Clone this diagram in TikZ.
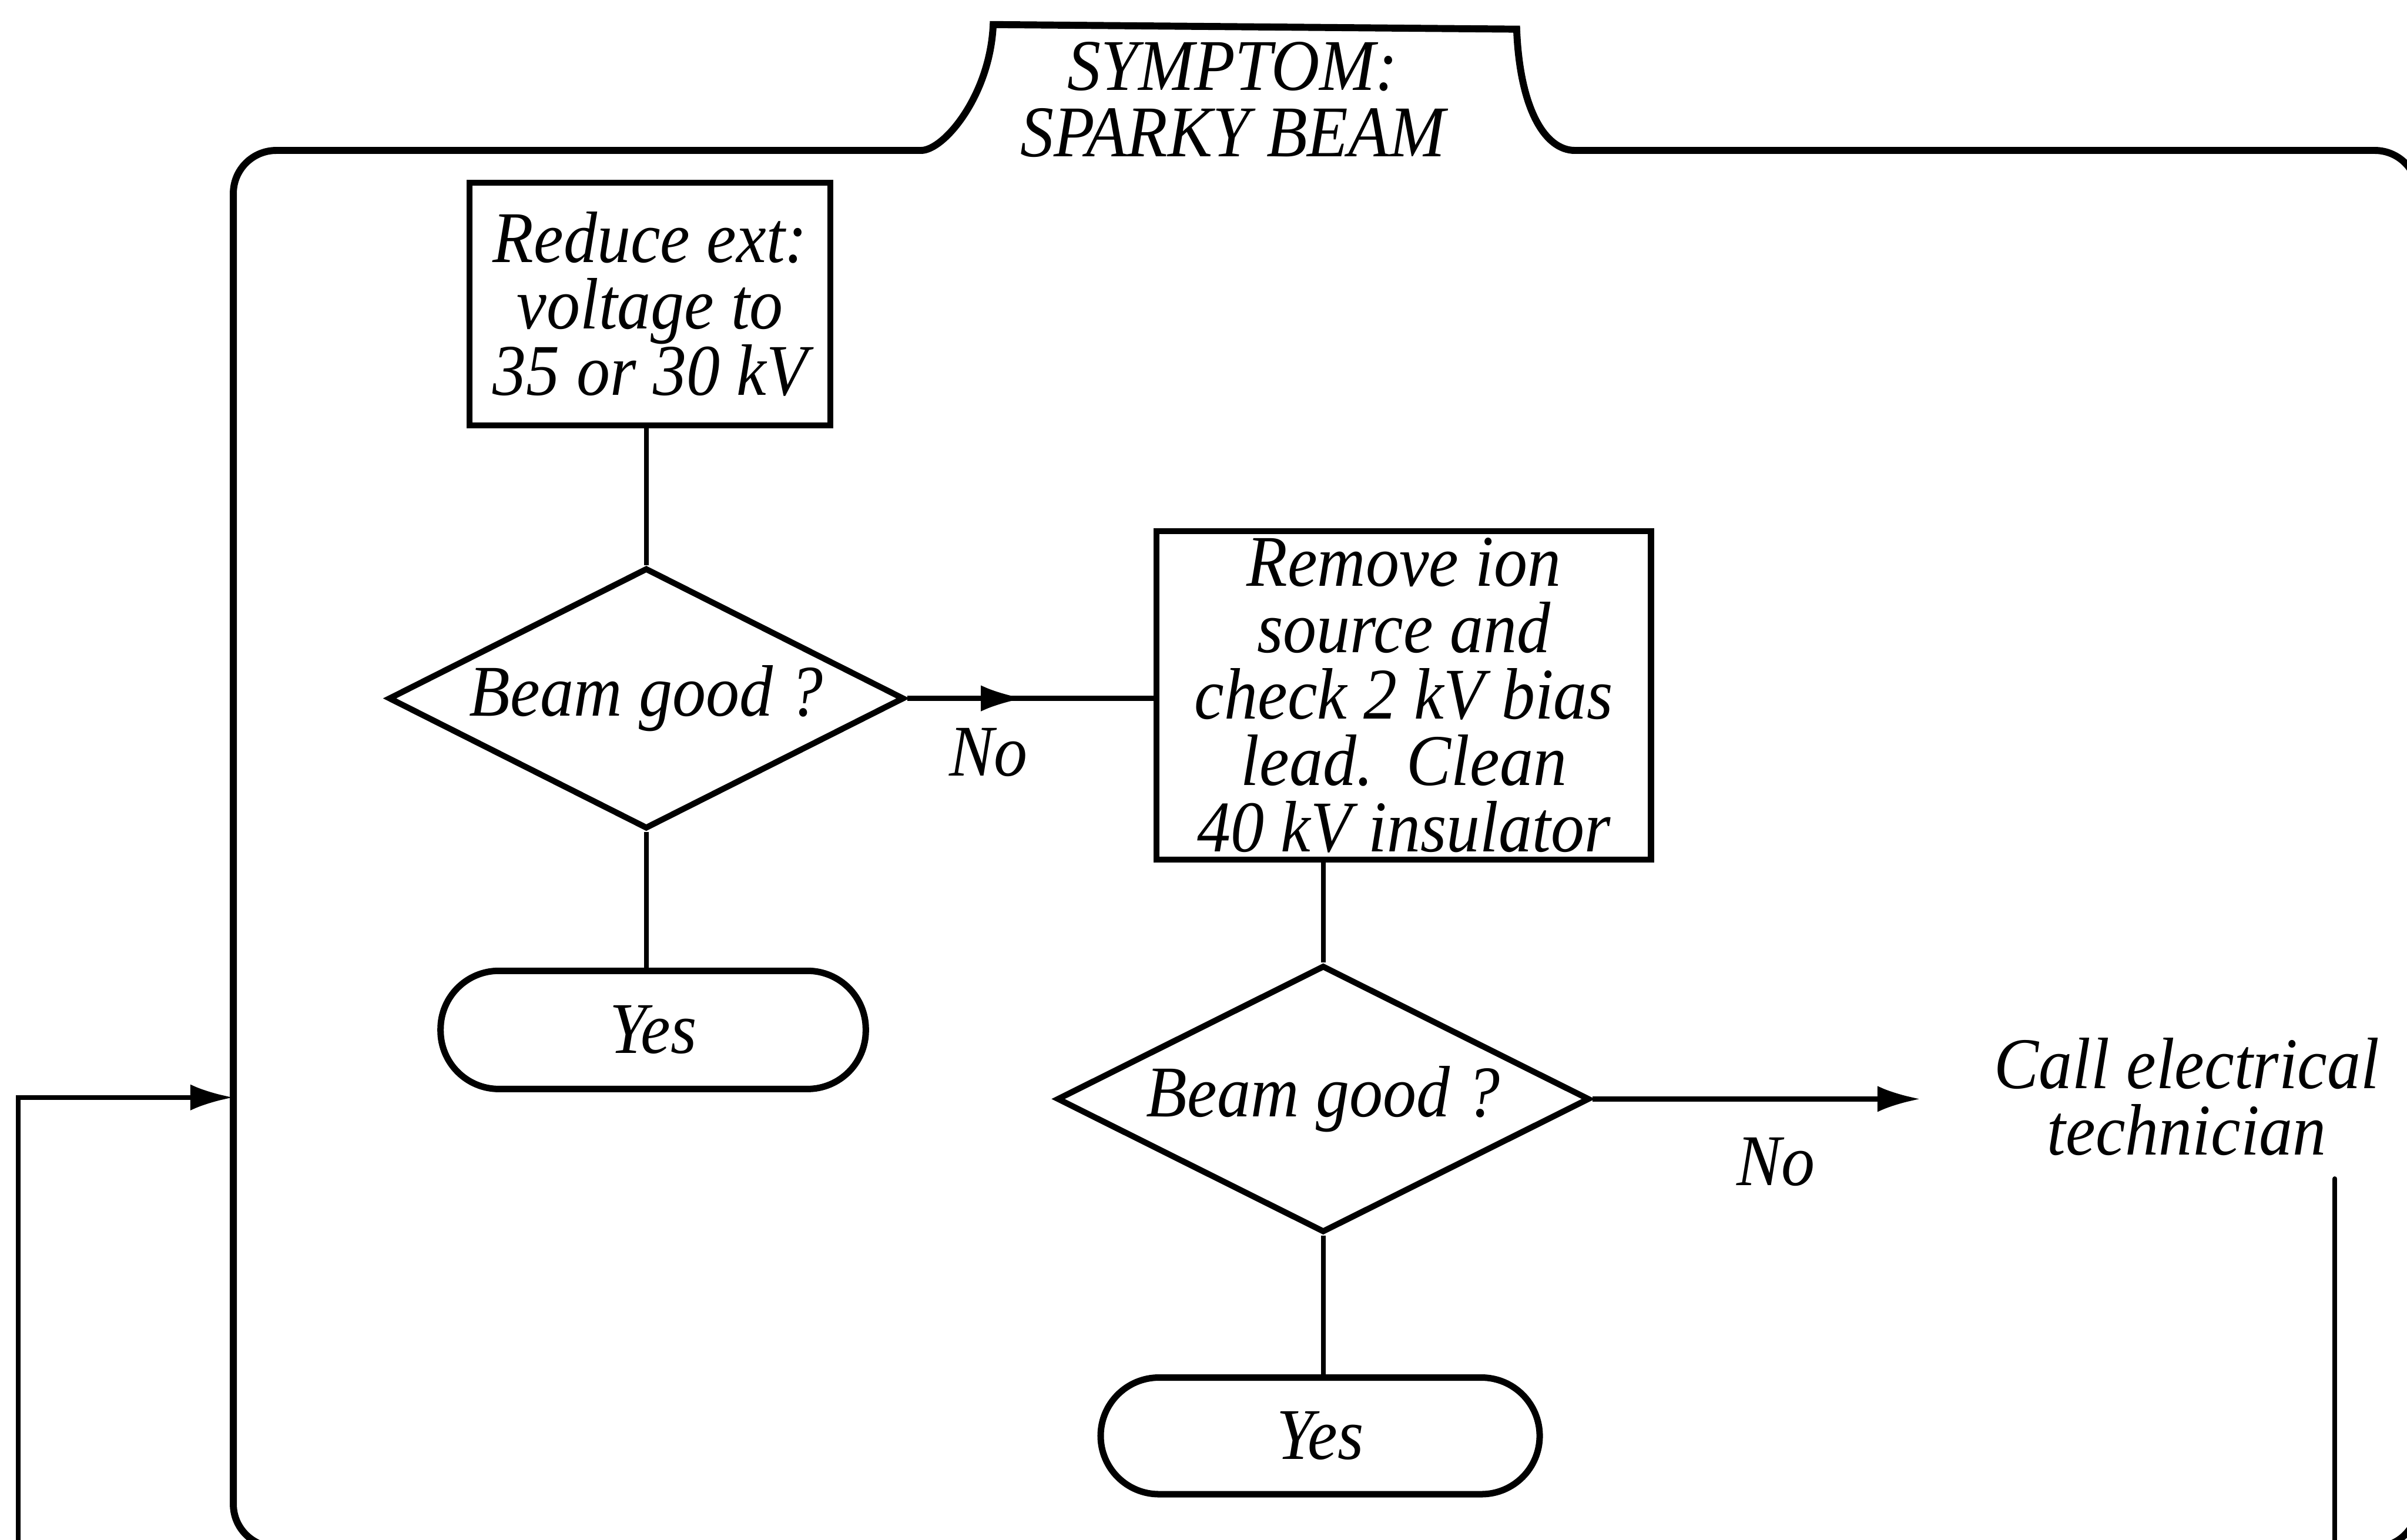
\documentclass[tikz,border=0pt]{standalone}
\usepackage{fontspec}
\setmainfont{Liberation Serif}[FakeStretch=0.92]
\usetikzlibrary{arrows.meta,shapes.geometric}

\begin{document}
\begin{tikzpicture}[x=0.1mm,y=-0.1mm,
  every node/.style={font=\fontsize{13.5}{12.3}\selectfont\itshape, inner sep=0pt, align=center},
  frame/.style={line width=1.3pt, line cap=round},
  stepbox/.style={draw, rectangle, line width=1.1pt},
  decision/.style={draw, diamond, aspect=2, line width=1.1pt},
  terminal/.style={draw, rectangle, rounded corners=3.8mm, line width=1.2pt},
  conn/.style={line width=0.9pt},
  tip/.style={-{Latex[length=2.8mm,width=1.7mm]}}
]
\useasboundingbox (0,0) rectangle (1568,1003);
\clip (0,0) rectangle (1568,1003);

% outer frame with its title tab
\draw[frame, rounded corners=2.8mm] (600,98) -- (152,98) -- (152,1008) -- (1575,1008) -- (1575,98) -- (1026,98);
\draw[frame] (600,98) .. controls (615,98) and (645,62) .. (647,16) -- (988,19)
  .. controls (990,70) and (1006,98) .. (1026,98);
\node (title) at (803,65) {SYMPTOM:\\SPARKY BEAM};

% first branch
\node[stepbox, minimum width=23.5mm, minimum height=15.8mm] (b1) at (423.5,198) {Reduce ext:\\voltage to\\35 or 30 kV};
\node[decision, minimum width=33.6mm, minimum height=17mm] (d1) at (421,455) {Beam good ?};
\node[terminal, minimum width=27.7mm, minimum height=7.7mm] (t1) at (425.5,671) {Yes};

% second branch
\node[stepbox, minimum width=32.2mm, minimum height=21.4mm] (b2) at (914.5,453) {Remove ion\\source and\\check 2 kV bias\\lead.\ \ Clean\\40 kV insulator};
\node[decision, minimum width=34.7mm, minimum height=17.4mm] (d2) at (862,716) {Beam good ?};
\node[terminal, minimum width=28.6mm, minimum height=7.6mm] (t2) at (860,935.5) {Yes};

\node (call) at (1424.6,714.6) {Call electrical\\technician};
\node (no1) at (644,490) {No};
\node (no2) at (1157,757) {No};

\coordinate (a1) at (667,455);
\coordinate (a2) at (1251,716);
\coordinate (techtop) at (1521,768);
\coordinate (techbot) at (1521,1010);
\coordinate (fbstart) at (12,1010);
\coordinate (entry) at (152,715);

% connectors
\draw[conn] (d1.north |- b1.south) -- (d1.north);
\draw[conn] (d1.south) -- (d1.south |- t1.north);
\draw[conn] (d1.east) -- (d1.east -| b2.west);
\draw[conn, tip] (d1.east) -- (a1);
\draw[conn] (d2.north |- b2.south) -- (d2.north);
\draw[conn] (d2.south) -- (d2.south |- t2.north);
\draw[conn, tip] (d2.east) -- (a2);
\draw[conn, line cap=round] (techtop) -- (techbot);
\draw[conn, tip] (fbstart) |- (entry);
\end{tikzpicture}
\end{document}
